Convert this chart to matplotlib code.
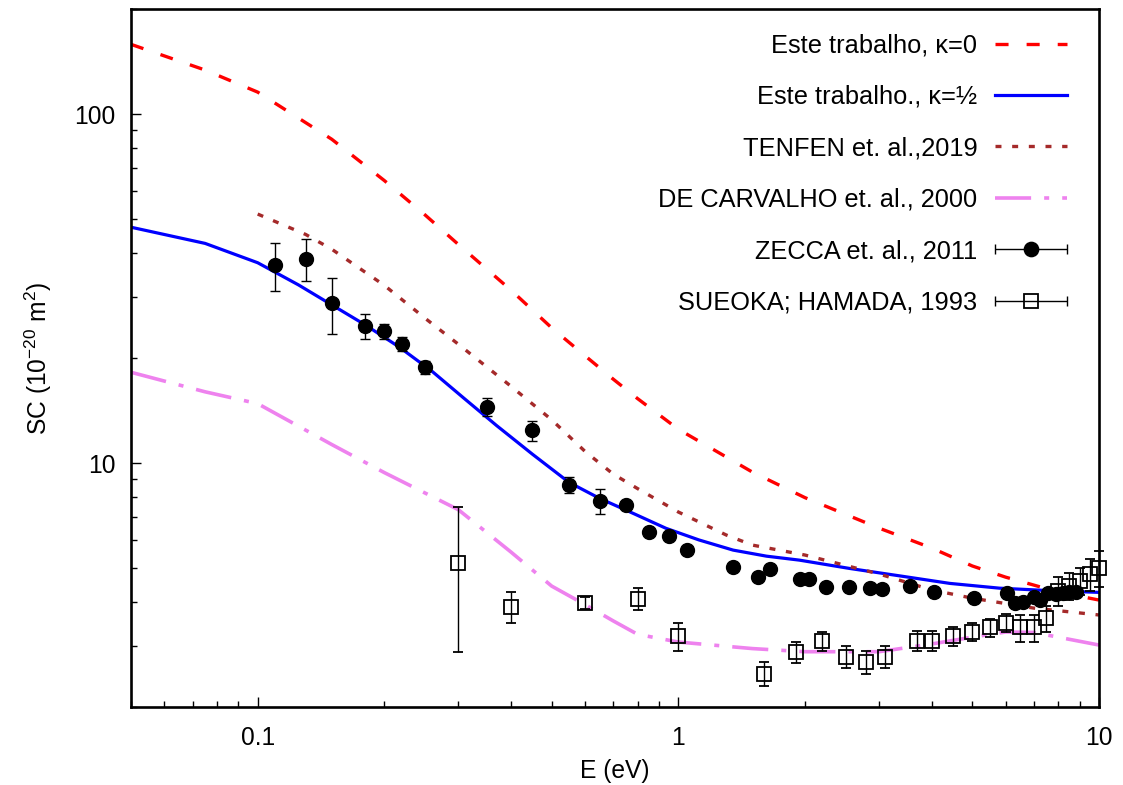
import numpy as np
import matplotlib
matplotlib.use('Agg')
import matplotlib.pyplot as plt
from matplotlib.container import ErrorbarContainer
from matplotlib.legend_handler import HandlerErrorbar
from matplotlib.lines import Line2D
from matplotlib.collections import LineCollection

plt.rcParams['font.family'] = ['Liberation Sans', 'DejaVu Sans']
plt.rcParams['mathtext.fontset'] = 'custom'
plt.rcParams['mathtext.rm'] = 'Liberation Sans'
plt.rcParams['mathtext.it'] = 'Liberation Sans:italic'
plt.rcParams['lines.scale_dashes'] = False

# Este trabalho, kappa=0
e_k0 = [0.05, 0.075, 0.1, 0.15, 0.2, 0.25, 0.3, 0.4, 0.5, 0.6, 0.7, 0.8, 1.0,
        1.5, 2.0, 3.0, 4.0, 5.0, 6.0, 7.0, 8.0, 10.0]
sc_k0 = [158.4, 133.7, 115.6, 84.7, 64.5, 51.4, 42.3, 31.3, 24.4, 20.3, 17.4, 15.3, 12.5,
         9.42, 7.96, 6.51, 5.71, 5.07, 4.71, 4.47, 4.27, 4.05]

# Este trabalho, kappa=1/2
e_k12 = [0.05, 0.075, 0.1, 0.125, 0.15, 0.18, 0.217, 0.26, 0.31, 0.37, 0.45, 0.55,
         0.65, 0.78, 0.935, 1.12, 1.35, 1.62, 1.94, 2.55, 3.36, 4.42, 5.8, 7.6, 10.0]
sc_k12 = [47.4, 42.6, 37.5, 32.4, 28.4, 24.9, 21.5, 18.3, 15.3, 12.8, 10.6, 8.8,
          7.92, 7.18, 6.5, 6.02, 5.63, 5.41, 5.27, 4.99, 4.75, 4.52, 4.38, 4.31, 4.26]

# TENFEN et al. 2019
e_ten = [0.1, 0.13, 0.15, 0.2, 0.25, 0.3, 0.4, 0.5, 0.6, 0.7, 0.8, 1.0,
         1.3, 1.5, 2.0, 3.0, 4.0, 5.0, 7.0, 10.0]
sc_ten = [51.7, 45.2, 41.0, 32.3, 26.0, 21.9, 16.6, 13.3, 10.8, 9.30, 8.45, 7.24,
          6.22, 5.82, 5.45, 4.81, 4.33, 4.10, 3.84, 3.67]

# DE CARVALHO et al. 2000
e_car = [0.05, 0.075, 0.1, 0.15, 0.2, 0.3, 0.4, 0.5, 0.6, 0.7, 0.8, 1.0,
         1.5, 2.0, 3.0, 4.0, 5.0, 6.0, 7.0, 8.0, 10.0]
sc_car = [18.2, 16.0, 14.8, 11.3, 9.39, 7.35, 5.56, 4.44, 3.93, 3.53, 3.23, 3.07,
          2.94, 2.88, 2.88, 3.03, 3.17, 3.28, 3.27, 3.17, 3.01]

# ZECCA et al. 2011
e_zec = [0.11, 0.13, 0.15, 0.18, 0.2, 0.22, 0.25, 0.35, 0.45, 0.55, 0.65, 0.75,
         0.85, 0.95, 1.05, 1.35, 1.55, 1.65, 1.95, 2.05, 2.25, 2.55, 2.85, 3.05,
         3.55, 4.05, 5.05, 6.05, 6.3, 6.6, 7.0, 7.25, 7.55, 7.9, 8.2, 8.5, 8.8]
sc_zec = [36.9, 38.5, 28.7, 24.7, 23.9, 21.9, 18.8, 14.5, 12.4, 8.66, 7.80, 7.58,
          6.34, 6.18, 5.62, 5.05, 4.72, 4.97, 4.64, 4.64, 4.42, 4.42, 4.38, 4.36,
          4.45, 4.28, 4.10, 4.25, 3.98, 4.01, 4.14, 4.05, 4.23, 4.21, 4.25, 4.28, 4.27]
err_zec = [5.8, 5.3, 5.3, 2.1, 1.2, 1.0, 0.8, 0.9, 0.8, 0.45, 0.65, 0.1,
           0.1, 0.1, 0.1, 0.1, 0.1, 0.1, 0.1, 0.1, 0.1, 0.1, 0.1, 0.1,
           0.1, 0.1, 0.1, 0.1, 0.1, 0.1, 0.1, 0.1, 0.1, 0.1, 0.1, 0.1, 0.1]

# SUEOKA; HAMADA 1993
e_sue = [0.3, 0.4, 0.6, 0.8, 1.0, 1.6, 1.9, 2.2, 2.5, 2.8, 3.1, 3.7, 4.0, 4.5,
         5.0, 5.5, 6.0, 6.5, 7.0, 7.5, 8.0, 8.5, 9.0, 9.5, 10.0]
sc_sue = [5.18, 3.88, 3.98, 4.09, 3.19, 2.49, 2.88, 3.09, 2.79, 2.69, 2.79, 3.10, 3.10, 3.19,
          3.29, 3.38, 3.49, 3.38, 3.38, 3.59, 4.30, 4.45, 4.60, 4.80, 5.00]
err_sue = [2.3, 0.4, 0.15, 0.3, 0.3, 0.2, 0.2, 0.2, 0.2, 0.2, 0.2, 0.2, 0.2, 0.2,
           0.2, 0.2, 0.2, 0.3, 0.3, 0.3, 0.4, 0.4, 0.4, 0.5, 0.6]

fig = plt.figure(figsize=(11.23, 7.85), dpi=100)
ax = fig.add_axes([0.1167, 0.0994, 0.8619, 0.8891])

ax.plot(e_k0, sc_k0, color='#ff0000', lw=2.4, ls=(0, (9.4, 13)), label='Este trabalho, κ=0')
ax.plot(e_k12, sc_k12, color='#0000ff', lw=2.3, label='Este trabalho., κ=½')
ax.plot(e_ten, sc_ten, color='#a52a2a', lw=2.4, ls=(0, (4.3, 7.7)), label='TENFEN et. al.,2019')
ax.plot(e_car, sc_car, color='#ee82ee', lw=2.6, ls=(0, (26, 9.4, 3.6, 9.4)),
        label='DE CARVALHO et. al., 2000')

ax.errorbar(e_zec, sc_zec, yerr=err_zec, fmt='o', color='black', ms=10,
            ecolor='black', elinewidth=1.0, capsize=3.6, capthick=1.0, zorder=4)
ax.errorbar(e_sue, sc_sue, yerr=err_sue, fmt='s', color='black', ms=10.5, mfc='none',
            mew=1.3, ecolor='black', elinewidth=1.0, capsize=3.6, capthick=1.0,
            zorder=4, clip_on=False)

ax.set_xscale('log')
ax.set_yscale('log')
ax.set_xlim(0.05, 10)
ax.set_ylim(2, 200)
ax.set_xticks([0.1, 1, 10], labels=['0.1', '1', '10'])
ax.set_yticks([10, 100], labels=['10', '100'])
ax.tick_params(which='both', direction='in', top=False, right=False, labelsize=17.7)
ax.tick_params(which='major', length=7.2, width=1.0)
ax.tick_params(which='minor', length=4.3, width=1.0)
ax.tick_params(axis='x', which='major', pad=14)
ax.tick_params(axis='y', which='major', pad=11)
for s in ax.spines.values():
    s.set_linewidth(1.9)

ax.set_xlabel('E (eV)', fontsize=17.7, labelpad=6)
ax.set_ylabel('SC (10$^{-20}$ m$^{2}$)', fontsize=17.7, labelpad=15)


def proxy(marker, mfc, label):
    ln = Line2D([], [], marker=marker, color='black', ms=10 if marker == 'o' else 10.5,
                mfc=mfc, mew=1.3, ls='none')
    cap = Line2D([], [], marker='|', color='black', ms=7.2, mew=1.0, ls='none')
    bars = LineCollection([], colors='black', linewidths=1.0)
    return ErrorbarContainer((ln, (cap,), (bars,)), has_xerr=True, has_yerr=False, label=label)


handles, labels = ax.get_legend_handles_labels()
handles = handles[:4] + [proxy('o', 'black', 'ZECCA et. al., 2011'),
                         proxy('s', 'none', 'SUEOKA; HAMADA, 1993')]
labels = labels[:4] + ['ZECCA et. al., 2011', 'SUEOKA; HAMADA, 1993']

ax.legend(handles, labels, loc='upper right', bbox_to_anchor=(0.967, 0.965),
          frameon=False, markerfirst=False, fontsize=18.3, handlelength=2.85,
          handletextpad=0.68, labelspacing=1.08, borderpad=0, borderaxespad=0,
          handler_map={ErrorbarContainer: HandlerErrorbar(xerr_size=1.42)})

fig.savefig('out.png', dpi=100)
